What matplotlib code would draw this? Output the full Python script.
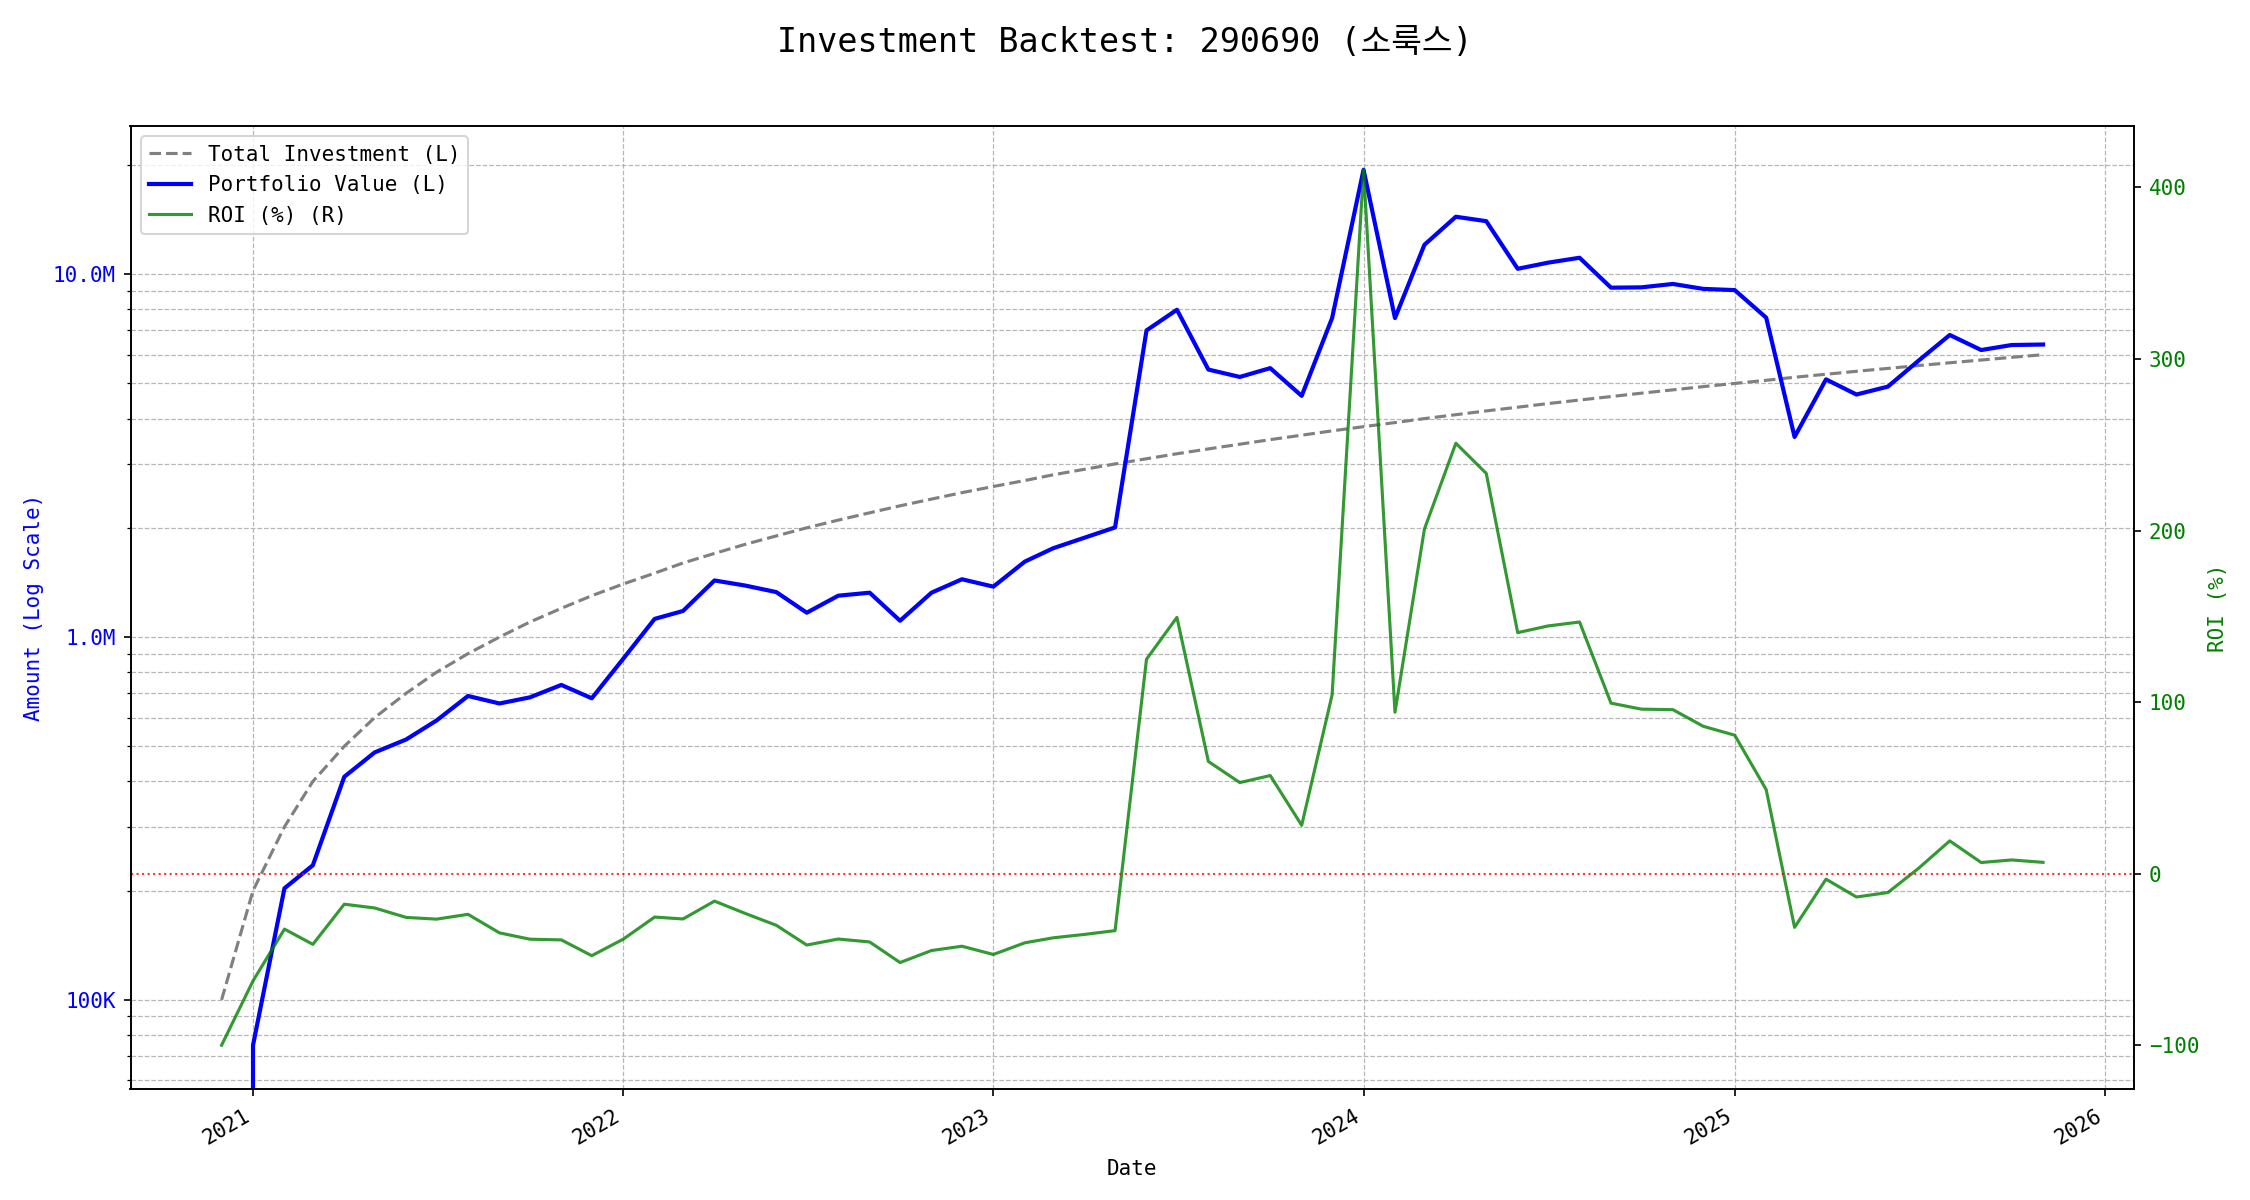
import matplotlib
matplotlib.use("Agg")
import matplotlib.pyplot as plt
import matplotlib.ticker as mticker
import pandas as pd

plt.rcParams['font.family'] = ['DejaVu Sans Mono', 'Noto Sans CJK KR']

dates = pd.date_range('2020-12-01', periods=60, freq='MS')

total_investment = [
    100000, 200000, 300000, 400000, 500000, 600000, 700000, 800000, 900000, 1000000,
    1100000, 1200000, 1300000, 1400000, 1500000, 1600000, 1700000, 1800000, 1900000, 2000000,
    2100000, 2200000, 2300000, 2400000, 2500000, 2600000, 2700000, 2800000, 2900000, 3000000,
    3100000, 3200000, 3300000, 3400000, 3500000, 3600000, 3700000, 3800000, 3900000, 4000000,
    4100000, 4200000, 4300000, 4400000, 4500000, 4600000, 4700000, 4800000, 4900000, 5000000,
    5100000, 5200000, 5300000, 5400000, 5500000, 5600000, 5700000, 5800000, 5900000, 6000000,
]

portfolio_value = [
    0, 75000, 203000, 235000, 412000, 481000, 522000, 589000, 688000, 656000,
    682000, 738000, 678000, 871000, 1122000, 1180000, 1432000, 1387000, 1330000, 1167000,
    1300000, 1325000, 1109000, 1325000, 1443000, 1377000, 1614000, 1757000, 1879000, 2005000,
    7000000, 7980000, 5460000, 5210000, 5510000, 4620000, 7570000, 19400000, 7570000, 12050000,
    14400000, 14000000, 10350000, 10760000, 11100000, 9180000, 9200000, 9400000, 9110000, 9040000,
    7590000, 3560000, 5130000, 4660000, 4900000, 5770000, 6800000, 6180000, 6380000, 6400000,
]

roi_pct = [
    -100, -62.5, -32.3, -41.2, -17.8, -20.0, -25.5, -26.5, -23.7, -34.5,
    -38.2, -38.6, -47.8, -38.2, -25.3, -26.4, -16.0, -23.1, -30.1, -41.6,
    -38.1, -39.8, -51.8, -44.8, -42.3, -47.1, -40.3, -37.4, -35.4, -33.2,
    125.0, 149.4, 65.4, 53.1, 57.2, 28.2, 104.2, 410.3, 94.1, 200.8,
    250.9, 233.3, 140.5, 144.4, 146.7, 99.4, 95.9, 95.6, 85.9, 80.7,
    49.0, -31.3, -3.2, -13.6, -11.0, 3.0, 19.1, 6.5, 8.0, 6.6,
]

fig, ax1 = plt.subplots(figsize=(15, 8), dpi=150)

l1, = ax1.plot(dates, total_investment, color='gray', linestyle='--', linewidth=1.5,
               label='Total Investment (L)')
l2, = ax1.plot(dates, portfolio_value, color='blue', linewidth=2,
               label='Portfolio Value (L)')
ax1.set_yscale('log')
ax1.set_xlabel('Date', fontsize=10, labelpad=5)
ax1.set_ylabel('Amount (Log Scale)', color='blue', fontsize=10)
ax1.tick_params(axis='y', labelcolor='blue', labelsize=10)
ax1.tick_params(axis='x', labelsize=10, pad=4.5)


def fmt(v, pos):
    if v >= 1e6:
        return f'{v/1e6:.1f}M'
    if v >= 1e3:
        return f'{v/1e3:.0f}K'
    return f'{v:.0f}'


ax1.yaxis.set_major_formatter(mticker.FuncFormatter(fmt))
ax1.yaxis.set_minor_formatter(mticker.NullFormatter())
ax1.grid(True, which='both', linestyle='--', linewidth=0.6, color='#b0b0b0', alpha=0.9)

ax2 = ax1.twinx()
l3, = ax2.plot(dates, roi_pct, color='green', linewidth=1.5, alpha=0.8, label='ROI (%) (R)')
ax2.axhline(0, color='red', linestyle=':', linewidth=1, alpha=0.8)
ax2.set_ylabel('ROI (%)', color='green', fontsize=10)
ax2.tick_params(axis='y', labelcolor='green', labelsize=10)

ax1.legend(handles=[l1, l2, l3], loc='upper left', fontsize=10)

fig.autofmt_xdate()
fig.subplots_adjust(left=0.058, right=0.9485, top=0.895, bottom=0.0925)
fig.suptitle('Investment Backtest: 290690 (소룩스)', fontsize=16, y=0.978)

fig.savefig('out.png', dpi=150)
